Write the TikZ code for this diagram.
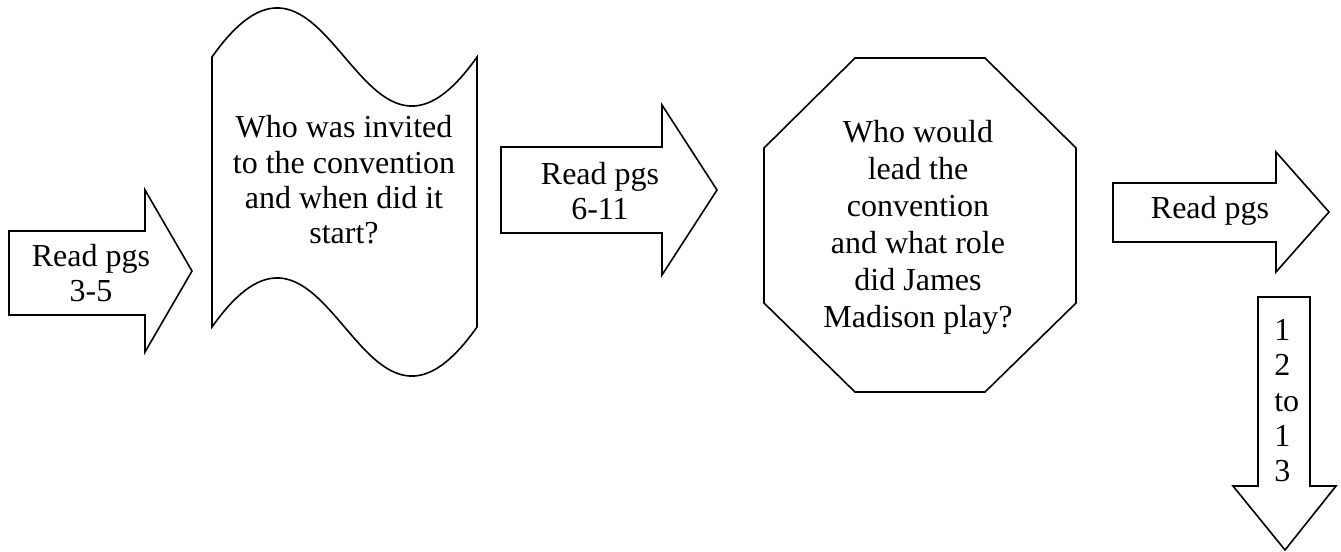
\documentclass[tikz,border=0pt]{standalone}
\usepackage{fontspec}
\setmainfont{Liberation Serif}
\usepackage{tikz}
\usetikzlibrary{positioning}

\tikzset{
  shp/.style={color={rgb, 255:red, 0; green, 0; blue, 0 }, draw opacity=1, line width=1.2pt, line join=miter, fill=white},
  txt/.style={font=\fontsize{24}{26.5}\selectfont, align=center, inner sep=0pt}
}

\begin{document}
\begin{tikzpicture}[x=0.75pt,y=0.75pt,yscale=-1,xscale=1]
\useasboundingbox (0,0) rectangle (1341,551);

%Shape: Right Arrow [pgs 3-5]
\draw [shp] (9,231) -- (145,231) -- (145,190) -- (192,271) -- (145,352) -- (145,315) -- (9,315) -- cycle ;
\node [txt] (readA) at (91,273) {Read pgs\\3-5};

%Shape: Wave [invited]
\draw [shp] (212,57) .. controls (332,-113) and (357,227) .. (477,57) -- (477,327) .. controls (357,497) and (332,157) .. (212,327) -- cycle ;
\node [txt] (invited) at (344,180) {Who was invited\\to the convention\\and when did it\\start?};

%Shape: Right Arrow [pgs 6-11]
\draw [shp] (501,147) -- (662,147) -- (662,105) -- (717,190) -- (662,275) -- (662,233) -- (501,233) -- cycle ;
\node [txt] (readB) at (600,191) {Read pgs\\6-11};

%Shape: Octagon [lead]
\draw [shp] (855,58) -- (985,58) -- (1076,148) -- (1076,303) -- (985,392) -- (855,392) -- (764,303) -- (764,148) -- cycle ;
\node [txt, font=\fontsize{24}{27.75}\selectfont] (lead) at (918,227) {Who would\\lead the\\convention\\and what role\\did James\\Madison play?};

%Shape: Right Arrow [pgs]
\draw [shp] (1113,183) -- (1276,183) -- (1276,152) -- (1329,212) -- (1276,272) -- (1276,242) -- (1113,242) -- cycle ;
\node [txt] (readC) at (1210,211) {Read pgs};

%Shape: Down Arrow [12 to 13]
\draw [shp] (1258,297) -- (1310,297) -- (1310,486) -- (1336,486) -- (1285,550) -- (1233,486) -- (1258,486) -- cycle ;
\node [txt, align=left, anchor=north west] (pages) at (1274,319) {1\\2\\to\\1\\3};

\end{tikzpicture}
\end{document}
